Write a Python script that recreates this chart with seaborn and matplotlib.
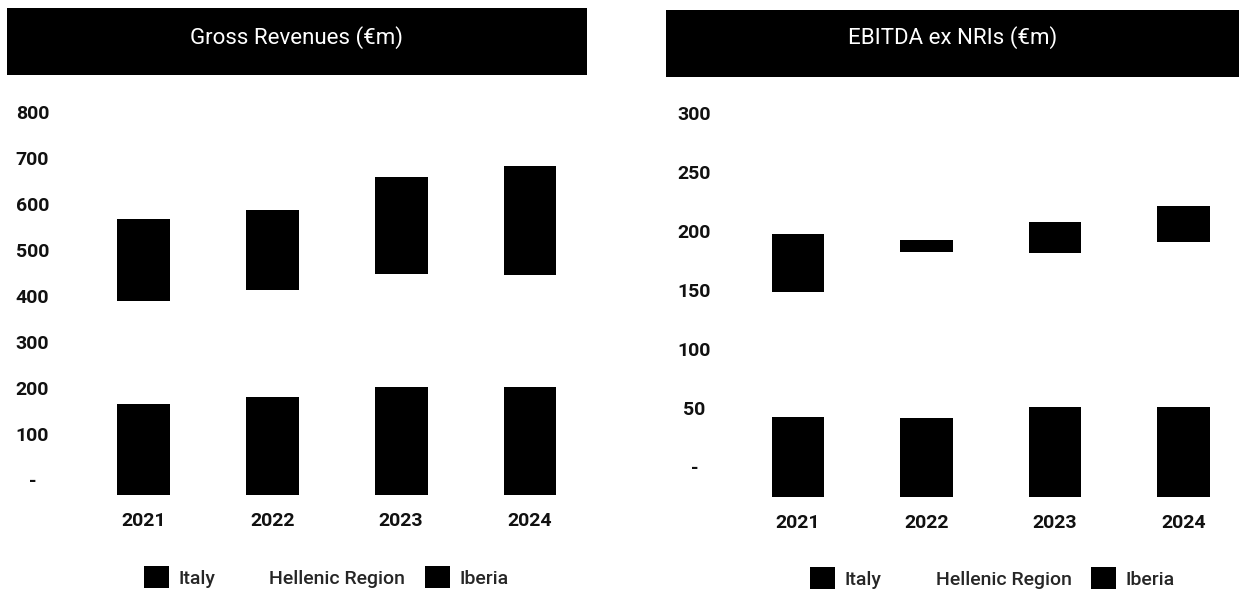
import numpy as np
import pandas as pd
import matplotlib
matplotlib.use("Agg")
import matplotlib.pyplot as plt
import seaborn as sns
from matplotlib.patches import Rectangle, Patch
from matplotlib.transforms import ScaledTranslation

# ---------------- data ----------------
years = ["2021", "2022", "2023", "2024"]
series_names = ["Italy", "Hellenic Region", "Iberia"]

rev_italy = [198, 213, 235, 235]
rev_hellenic = [224, 232, 245, 243]
rev_iberia = [178, 174, 211, 237]

ebitda_italy = [68, 67, 76, 76]
ebitda_hellenic = [106, 141, 131, 140]
ebitda_iberia = [49, 10, 26, 31]

rev_ticks = [0, 100, 200, 300, 400, 500, 600, 700, 800]
rev_tick_labels = ["-", "100", "200", "300", "400", "500", "600", "700", "800"]
ebitda_ticks = [0, 50, 100, 150, 200, 250, 300]
ebitda_tick_labels = ["-", "50", "100", "150", "200", "250", "300"]

titles = ["Gross Revenues (\u20acm)", "EBITDA ex NRIs (\u20acm)"]

# ---------------- style ----------------
sns.set_style("white")
plt.rcParams["font.family"] = ["Roboto", "DejaVu Sans"]

W, H, DPI = 1239, 589, 100
fig = plt.figure(figsize=(W / DPI, H / DPI), dpi=DPI)
fig.patch.set_facecolor("white")

HELL_COLOR = "#ffffff"
DARK = "#000000"

panels = [
    dict(title=titles[0], italy=rev_italy, hell=rev_hellenic, iber=rev_iberia,
         ticks=rev_ticks, labels=rev_tick_labels, ymax=850,
         ax_px=(66.2, 581.5, 495, 103.7), ylab_pad_px=33.7, ylab_shift_px=15,
         header_px=(7, 587, 8, 75), legend_px=(326, 577)),
    dict(title=titles[1], italy=ebitda_italy, hell=ebitda_hellenic, iber=ebitda_iberia,
         ticks=ebitda_ticks, labels=ebitda_tick_labels, ymax=330,
         ax_px=(720.9, 1234.9, 497, 107.6), ylab_pad_px=26.4, ylab_shift_px=30,
         header_px=(666, 1239, 10, 77), legend_px=(992.5, 578)),
]

for p in panels:
    l, r, b, t = p["ax_px"]
    ax = fig.add_axes([l / W, 1 - b / H, (r - l) / W, (b - t) / H])
    df = pd.DataFrame({"year": years, "Italy": p["italy"],
                       "Hellenic Region": p["hell"], "Iberia": p["iber"]})
    df["cum_hell"] = df["Italy"] + df["Hellenic Region"]
    df["total"] = df["cum_hell"] + df["Iberia"]

    common = dict(x="year", order=years, width=0.41, saturation=1,
                  errorbar=None, linewidth=0, ax=ax)
    sns.barplot(data=df, y="total", color=DARK, **common)
    sns.barplot(data=df, y="cum_hell", color=HELL_COLOR, **common)
    sns.barplot(data=df, y="Italy", color=DARK, **common)

    ax.set_xlim(-0.6, 3.4)
    ax.set_ylim(0, p["ymax"])
    ax.set_xlabel("")
    ax.set_ylabel("")
    for s in ax.spines.values():
        s.set_visible(False)
    ax.set_facecolor("none")

    ax.set_yticks(p["ticks"])
    ax.set_yticklabels(p["labels"], fontsize=14, fontweight="bold", color="#111111")
    ax.tick_params(axis="y", length=0, pad=p["ylab_pad_px"] * 72 / DPI)
    ax.tick_params(axis="x", length=0, pad=12)
    for lab in ax.get_xticklabels():
        lab.set_fontsize(14)
        lab.set_fontweight("bold")
        lab.set_color("#111111")
    shift = ScaledTranslation(0, p["ylab_shift_px"] / DPI, fig.dpi_scale_trans)
    for lab in ax.get_yticklabels():
        lab.set_horizontalalignment("center")
        lab.set_transform(lab.get_transform() + shift)

    # header band
    x0, x1, y0, y1 = p["header_px"]
    fig.add_artist(Rectangle((x0 / W, 1 - y1 / H), (x1 - x0) / W, (y1 - y0) / H,
                             transform=fig.transFigure, facecolor="black",
                             edgecolor="none", zorder=0))
    fig.text((x0 + x1) / 2 / W, 1 - 38 / H, p["title"], color="white",
             fontsize=16, fontweight="normal", ha="center", va="center")

    # legend
    handles = [Patch(facecolor=DARK, edgecolor="none"),
               Patch(facecolor=HELL_COLOR, edgecolor="none"),
               Patch(facecolor=DARK, edgecolor="none")]
    lx, ly = p["legend_px"]
    fig.legend(handles, series_names, loc="center",
               bbox_to_anchor=(lx / W, 1 - ly / H), ncol=3, frameon=False,
               prop=dict(family=["Roboto", "DejaVu Sans"], weight="medium", size=14),
               handlelength=1.29, handleheight=1.29, handletextpad=0.49,
               columnspacing=1.0, borderpad=0, borderaxespad=0)

fig.savefig("out.png", dpi=DPI, facecolor="white")
